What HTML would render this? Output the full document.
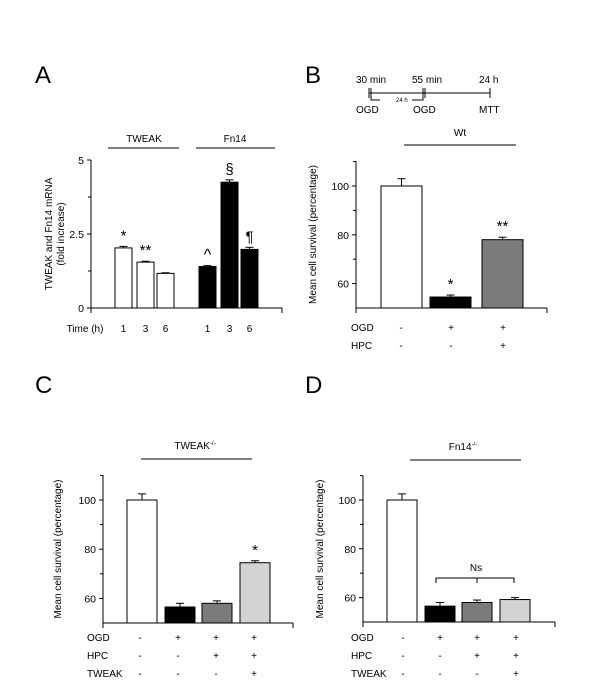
<!DOCTYPE html>
<html><head><meta charset="utf-8"><style>
html,body{margin:0;padding:0;background:#fff}
svg{display:block;font-family:"Liberation Sans",Arial,sans-serif}
</style></head><body>
<svg id="fig" width="600" height="696" viewBox="0 0 600 696">
<rect width="600" height="696" fill="#fff"/>
<g font-size="24" fill="#000">
<text x="35" y="83">A</text>
<text x="305" y="83">B</text>
<text x="35" y="393">C</text>
<text x="305" y="393">D</text>
</g>
<g id="timeline" stroke="#000" stroke-width="1" fill="none">
<line x1="369" y1="93" x2="490" y2="93"/>
<line x1="369" y1="88" x2="369" y2="98"/><line x1="371" y1="88" x2="371" y2="98"/>
<line x1="423" y1="88" x2="423" y2="98"/><line x1="425" y1="88" x2="425" y2="98"/>
<line x1="490" y1="88" x2="490" y2="98"/>
<polyline points="371,97 371,100 380,100"/>
<polyline points="412,100 423,100 423,97"/>
</g>
<g font-size="10" fill="#000">
<text x="356" y="83">30 min</text><text x="412" y="83">55 min</text><text x="479" y="83">24 h</text>
<text x="356" y="113">OGD</text><text x="413" y="113">OGD</text><text x="479" y="113">MTT</text>
<text x="396" y="102" font-size="6">24 h</text>
</g>
</svg>
<script>
// Panel A data
const aCats = ['1','3','6','1','3','6'];
const aValues = [2.03, 1.55, 1.17, 1.40, 4.25, 1.98];
const aErrors = [0.05, 0.03, 0.02, 0.03, 0.08, 0.07];
const aTicks = [0, 2.5, 5];
const aMarks = ['*','**','','^','§','¶'];
// Panel B data
const bValues = [100, 54.5, 78];
const bErrors = [3, 0.8, 1];
const bMarks = ['', '*', '**'];
// Panel C data
const cValues = [100, 56.5, 58, 74.5];
const cErrors = [2.5, 1.5, 1, 0.8];
const cMarks = ['', '', '', '*'];
// Panel D data
const dValues = [100, 56.5, 58, 59.2];
const dErrors = [2.5, 1.5, 1, 0.8];
const survTicks = [60, 80, 100];
const rowsB = [['OGD',['-','+','+']],['HPC',['-','-','+']]];
const rowsCD = [['OGD',['-','+','+','+']],['HPC',['-','-','+','+']],['TWEAK',['-','-','-','+']]];

const svg = document.getElementById('fig');
const NS = 'http://www.w3.org/2000/svg';
function mk(tag, attrs, parent){
  const e = document.createElementNS(NS, tag);
  for (const k in attrs) e.setAttribute(k, attrs[k]);
  (parent||svg).appendChild(e);
  return e;
}
function txt(x,y,s,size,anchor,parent){
  const t = mk('text',{x:x,y:y,'font-size':size,'text-anchor':anchor||'middle',fill:'#000'},parent);
  t.textContent = s; return t;
}

function panel(opt){
  const g = mk('g',{});
  
  
  const y = v => opt.y0 - (v - opt.vmin) / (opt.vmax - opt.vmin) * (opt.y0 - opt.y1);
  mk('line',{x1:opt.ax,y1:opt.top,x2:opt.ax,y2:opt.y0,stroke:'#000'},g);
  mk('line',{x1:opt.ax,y1:opt.y0,x2:opt.axEnd,y2:opt.y0,stroke:'#000'},g);
  mk('line',{x1:opt.axEnd,y1:opt.y0,x2:opt.axEnd,y2:opt.y0+5,stroke:'#000'},g);
  mk('line',{x1:opt.ax,y1:opt.y0,x2:opt.ax,y2:opt.y0+5,stroke:'#000'},g);
  opt.ticks.forEach(t=>{
    mk('line',{x1:opt.ax-4,y1:y(t),x2:opt.ax,y2:y(t),stroke:'#000'},g);
    const lb = txt(opt.ax-7,y(t)+4,String(t),10.5,'end',g);
    
    
  });
  (opt.minor||[]).forEach(t=>mk('line',{x1:opt.ax-3,y1:y(t),x2:opt.ax,y2:y(t),stroke:'#000'},g));
  opt.values.forEach((v,i)=>{
    const x = opt.barX[i], w = opt.barW;
    const top = y(v);
    const b = mk('rect',{x:x,y:top,width:w,height:opt.y0-top,fill:opt.fills[i],stroke:'#000','stroke-width':1},g);
    
    
    const et = y(v+opt.errors[i]);
    mk('line',{x1:x+w/2,y1:top,x2:x+w/2,y2:et,stroke:'#000'},g);
    mk('line',{x1:x+w/2-4,y1:et,x2:x+w/2+4,y2:et,stroke:'#000'},g);
    if (opt.marks && opt.marks[i]) {
      const m = txt(x+w/2, et-6, opt.marks[i], opt.marks[i]==='^'?16:15,'middle',g);
      
      
    }
  });
  const yt = mk('text',{transform:'translate('+opt.ytx+','+((opt.top+opt.y0)/2)+') rotate(-90)','font-size':10,'text-anchor':'middle',fill:'#000'},g);
  
  
  opt.ytitle.forEach((s,k)=>{const ts=mk('tspan',{x:0,dy:k?12:0},yt); ts.textContent=s;});
  return {g,y};
}

(function(){
  const barX = [115,137,157,199,221,241];
  const fills = ['#fff','#fff','#fff','#000','#000','#000'];
  const p = panel({name:'panel-a-chart',ax:91,axEnd:282,top:160,y0:308,y1:160,vmin:0,vmax:5,ticks:aTicks,minor:[1.25,3.75],
    values:aValues,errors:aErrors,barX:barX,barW:17,fills:fills,marks:aMarks,ytx:52,ytitle:['TWEAK and Fn14 mRNA','(fold increase)']});
  txt(85,332,'Time (h)',10,'middle',p.g);
  aCats.forEach((c,i)=>{const t=txt(barX[i]+8.5,332,c,10,'middle',p.g);});
  mk('line',{x1:108,y1:148,x2:179,y2:148,stroke:'#000'},p.g);
  mk('line',{x1:196,y1:148,x2:275,y2:148,stroke:'#000'},p.g);
  txt(144,142,'TWEAK',10,'middle',p.g);
  txt(235,142,'Fn14',10,'middle',p.g);
})();

function rows(g,rs,labelX,colX,y0,dy){
  rs.forEach((r,k)=>{
    const t = txt(labelX,y0+k*dy,r[0],10,'start',g);
    
    
    r[1].forEach((s,i)=>txt(colX[i],y0+k*dy,s,10,'middle',g));
  });
}

(function(){
  const barX=[381,430,482];
  const p = panel({name:'panel-b-chart',ax:356,axEnd:547,top:161,y0:308,y1:186,vmin:50,vmax:100,ticks:survTicks,minor:[70,90,110],
    values:bValues,errors:bErrors,barX:barX,barW:41,fills:['#fff','#000','#7b7b7b'],marks:bMarks,ytx:316,ytitle:['Mean cell survival (percentage)']});
  rows(p.g,rowsB,351,[401,451,503],331,18);
  mk('line',{x1:404,y1:145,x2:516,y2:145,stroke:'#000'},p.g);
  txt(460,136,'Wt',10,'middle',p.g);
})();

(function(){
  const barX=[127,165,202,240];
  const p = panel({name:'panel-c-chart',ax:103,axEnd:293,top:475,y0:623,y1:500,vmin:50,vmax:100,ticks:survTicks,minor:[70,90,110],
    values:cValues,errors:cErrors,barX:barX,barW:30,fills:['#fff','#000','#7b7b7b','#d3d3d3'],marks:cMarks,ytx:61,ytitle:['Mean cell survival (percentage)']});
  rows(p.g,rowsCD,87,[140,178,216,254],641,18);
  mk('line',{x1:141,y1:459,x2:252,y2:459,stroke:'#000'},p.g);
  const t=txt(195,449,'TWEAK',10,'middle',p.g);
  const s=mk('tspan',{'font-size':6,dy:-4},t); s.textContent='-/-';
})();

(function(){
  const barX=[387,425,462,500];
  const p = panel({name:'panel-d-chart',ax:363,axEnd:555,top:476,y0:622,y1:500,vmin:50,vmax:100,ticks:survTicks,minor:[70,90,110],
    values:dValues,errors:dErrors,barX:barX,barW:30,fills:['#fff','#000','#7b7b7b','#d3d3d3'],marks:null,ytx:323,ytitle:['Mean cell survival (percentage)']});
  rows(p.g,rowsCD,351,[403,440,477,516],641,18);
  mk('line',{x1:410,y1:460,x2:521,y2:460,stroke:'#000'},p.g);
  const t=txt(463,450,'Fn14',10,'middle',p.g);
  const s=mk('tspan',{'font-size':6,dy:-4},t); s.textContent='-/-';
  const br = mk('polyline',{points:'436,583 436,578 514,578 514,583',fill:'none',stroke:'#000'},p.g);
  
  
  mk('line',{x1:477,y1:578,x2:477,y2:583,stroke:'#000'},p.g);
  txt(476,571,'Ns',10,'middle',p.g);
})();
</script>
</body></html>
